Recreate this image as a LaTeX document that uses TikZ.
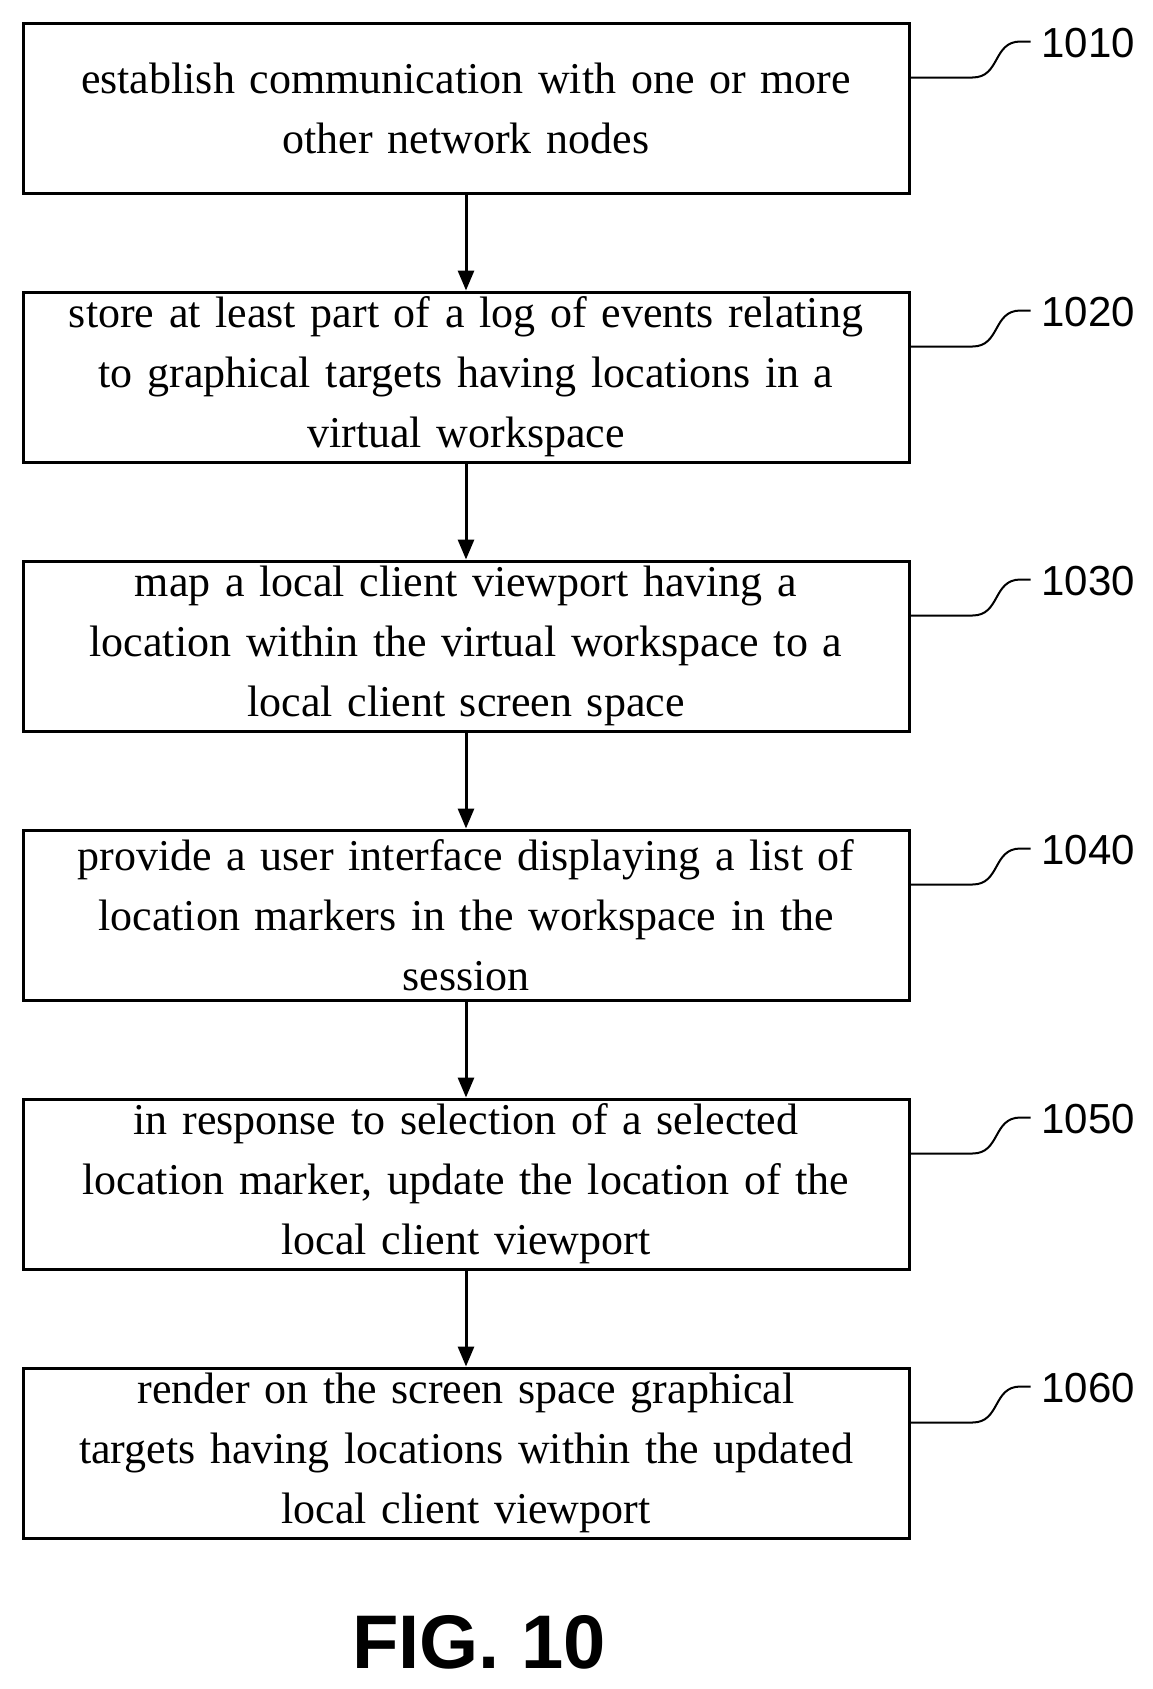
\documentclass[tikz,border=0pt]{standalone}
\usepackage{fontspec}
\setmainfont{Liberation Serif}
\newfontfamily\labelfont{Liberation Sans}
\usetikzlibrary{arrows.meta, positioning}

\begin{document}
\begin{tikzpicture}[x=1pt, y=1pt, node distance=96pt, >={Triangle[length=20pt,width=16pt]},
                    line width=3pt]
  \tikzset{stepbox/.style={draw, rectangle, anchor=north west, minimum width=886pt, minimum height=170pt,
                        text width=880pt, align=center, inner sep=0pt,
                        font=\fontsize{44}{60}\selectfont},
           refnum/.style={font=\labelfont\fontsize{42}{42}\selectfont},
           lead/.style={line width=2pt}}
  \useasboundingbox (0,0) rectangle (1152,-1689);

  \node[stepbox] (S1) at (21.5,-21.5) {establish communication with one or more\\ other network nodes};
  \node[stepbox] (S2) [below=of S1] {store at least part of a log of events relating\\ to graphical targets having locations in a\\ virtual workspace};
  \node[stepbox] (S3) [below=of S2] {map a local client viewport having a\\ location within the virtual workspace to a\\ local client screen space};
  \node[stepbox] (S4) [below=of S3] {provide a user interface displaying a list of\\ location markers in the workspace in the\\ session};
  \node[stepbox] (S5) [below=of S4] {in response to selection of a selected\\ location marker, update the location of the\\ local client viewport};
  \node[stepbox] (S6) [below=of S5] {render on the screen space graphical\\ targets having locations within the updated\\ local client viewport};

  \foreach \a/\b in {S1/S2, S2/S3, S3/S4, S4/S5, S5/S6}
    \draw[->] (\a) -- (\b);

  % reference numerals
  \foreach \s/\n in {S1/1010, S2/1020, S3/1030, S4/1040, S5/1050, S6/1060} {
    \coordinate (\s a) at ([yshift=-56pt]\s.north east);
    \coordinate (\s b) at ([shift={(120pt,-20pt)}]\s.north east);
    \draw[lead] (\s a) -- ([xshift=62pt]\s a) .. controls +(28,0) and +(-28,0) .. ([xshift=-10pt]\s b) -- (\s b);
    \node[refnum, anchor=west] (\s n) at ([xshift=6pt, yshift=-2pt]\s b) {\n};
  }

  \node[font=\labelfont\bfseries\fontsize{76}{76}\selectfont] (fig) at (479,-1642) {FIG. 10};
\end{tikzpicture}
\end{document}
